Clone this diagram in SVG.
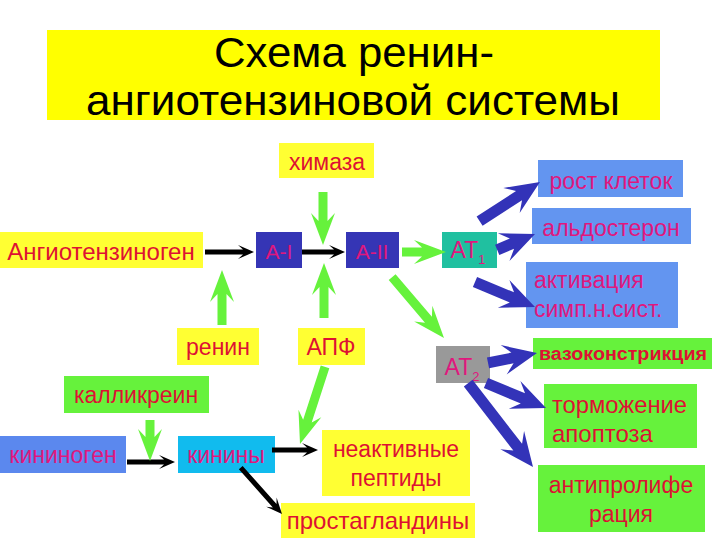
<svg xmlns="http://www.w3.org/2000/svg" width="720" height="540" viewBox="0 0 720 540">
<style>
text{font-family:"Liberation Sans",Arial,sans-serif;font-size:23px;text-anchor:middle}
.t{fill:#dd1133}
.m{fill:#e0177d}
.y{fill:#ffff33}
.g{fill:#66f23c}
.b{fill:#6395f0}
.gr{fill:#66f23c}
.bl{fill:#3333b8}
.k{fill:#000}
.s{text-anchor:start}
</style>
<rect width="720" height="540" fill="#fff"/>
<g id="title">
<rect x="47" y="30" width="613" height="90" fill="#ffff00"/>
<text x="354" y="67" style="font-size:42px" fill="#000" textLength="280" lengthAdjust="spacingAndGlyphs">Схема ренин-</text>
<text x="353" y="115" style="font-size:42px" fill="#000" textLength="534" lengthAdjust="spacingAndGlyphs">ангиотензиновой системы</text>
</g>
<g id="chymase"><rect class="y" x="279" y="143" width="95" height="35"/><text class="t" x="327" y="170">химаза</text></g>
<g id="angiotensinogen"><rect class="y" x="0" y="232" width="203" height="36"/><text class="t" x="101" y="260" style="font-size:24px">Ангиотензиноген</text></g>
<g id="a1"><rect x="256" y="232" width="46" height="36" fill="#3535b5"/><text class="m" x="279" y="259" style="font-size:21px">A-I</text></g>
<g id="a2"><rect x="346" y="232" width="53" height="36" fill="#3535b5"/><text class="m" x="372" y="259" style="font-size:21px">A-II</text></g>
<g id="at1"><rect x="442" y="232" width="55" height="36" fill="#20c0a0"/><text class="m" x="468" y="258" style="font-size:23px">AT<tspan style="font-size:13px" dy="6">1</tspan></text></g>
<g id="growth"><rect class="b" x="538" y="160" width="145" height="37"/><text class="m" x="611" y="189">рост клеток</text></g>
<g id="aldosterone"><rect class="b" x="532" y="208" width="159" height="36"/><text class="m" x="611" y="236">альдостерон</text></g>
<g id="symp"><rect class="b" x="526" y="262" width="152" height="66"/><text class="m s" x="534" y="288">активация</text><text class="m s" x="534" y="317">симп.н.сист.</text></g>
<g id="renin"><rect class="y" x="177" y="328" width="82" height="37"/><text class="t" x="218" y="355">ренин</text></g>
<g id="ace"><rect class="y" x="298" y="328" width="67" height="37"/><text class="t" x="331" y="355">АПФ</text></g>
<g id="at2"><rect x="436" y="346" width="54" height="37" fill="#999999"/><text class="m" x="462" y="375" style="font-size:23px">AT<tspan style="font-size:13px" dy="6">2</tspan></text></g>
<g id="vaso"><rect class="g" x="533" y="338" width="179" height="31"/><text class="t" x="623" y="360" style="font-size:18px;font-weight:bold" textLength="168" lengthAdjust="spacingAndGlyphs">вазоконстрикция</text></g>
<g id="kallikrein"><rect class="g" x="64" y="376" width="145" height="37"/><text class="t" x="136" y="403">калликреин</text></g>
<g id="apoptosis"><rect class="g" x="544" y="384" width="153" height="64"/><text class="t s" x="552" y="413" style="font-size:24px" textLength="135" lengthAdjust="spacingAndGlyphs">торможение</text><text class="t s" x="552" y="442" style="font-size:24px">апоптоза</text></g>
<g id="kininogen"><rect x="0" y="436" width="126" height="37" fill="#5b88ee"/><text class="m" x="63" y="463">кининоген</text></g>
<g id="kinins"><rect x="178" y="436" width="97" height="37" fill="#11bbee"/><text class="m" x="226" y="463">кинины</text></g>
<g id="inactive"><rect class="y" x="322" y="430" width="148" height="66"/><text class="t" x="396" y="457">неактивные</text><text class="t" x="396" y="486">пептиды</text></g>
<g id="prostaglandins"><rect class="y" x="281" y="503" width="194" height="35"/><text class="t" x="378" y="529" style="font-size:24px">простагландины</text></g>
<g id="antiprolif"><rect class="g" x="538" y="465" width="167" height="67"/><text class="t" x="621" y="493">антипролифе</text><text class="t" x="621" y="522">рация</text></g>
<g id="connectors">
<path class="k" transform="translate(254,252)" d="M0,0 L-16,-7 L-11,-2.5 L-49,-2.5 L-49,2.5 L-11,2.5 L-16,7 Z"/>
<path class="k" transform="translate(345,252)" d="M0,0 L-16,-7 L-11,-2.5 L-43,-2.5 L-43,2.5 L-11,2.5 L-16,7 Z"/>
<path class="k" transform="translate(175,462)" d="M0,0 L-16,-7 L-11,-2.5 L-48,-2.5 L-48,2.5 L-11,2.5 L-16,7 Z"/>
<path class="k" transform="translate(318,450)" d="M0,0 L-16,-7 L-11,-2.5 L-46,-2.5 L-46,2.5 L-11,2.5 L-16,7 Z"/>
<path class="k" transform="translate(282,514) rotate(48.3)" d="M0,0 L-16,-7 L-11,-2.5 L-62,-2.5 L-62,2.5 L-11,2.5 L-16,7 Z"/>
<path class="gr" transform="translate(323,245) rotate(90)" d="M0,0 L-32,-12 L-24,-4.5 L-53,-4.5 L-53,4.5 L-24,4.5 L-32,12 Z"/>
<path class="gr" transform="translate(324,263) rotate(-90)" d="M0,0 L-32,-12 L-24,-4.5 L-55,-4.5 L-55,4.5 L-24,4.5 L-32,12 Z"/>
<path class="gr" transform="translate(222,270) rotate(-90)" d="M0,0 L-32,-12 L-24,-4.5 L-55,-4.5 L-55,4.5 L-24,4.5 L-32,12 Z"/>
<path class="gr" transform="translate(446,252)" d="M0,0 L-32,-12 L-24,-4.5 L-44,-4.5 L-44,4.5 L-24,4.5 L-32,12 Z"/>
<path class="gr" transform="translate(444,338) rotate(49.6)" d="M0,0 L-32,-12 L-24,-4.5 L-80,-4.5 L-80,4.5 L-24,4.5 L-32,12 Z"/>
<path class="gr" transform="translate(300,444) rotate(108)" d="M0,0 L-32,-12 L-24,-4.5 L-81,-4.5 L-81,4.5 L-24,4.5 L-32,12 Z"/>
<path class="gr" transform="translate(150,461) rotate(90)" d="M0,0 L-32,-12 L-24,-4.5 L-41,-4.5 L-41,4.5 L-24,4.5 L-32,12 Z"/>
<path class="bl" transform="translate(540,182) rotate(-33)" d="M0,0 L-34,-15 L-25,-5.5 L-72,-5.5 L-72,5.5 L-25,5.5 L-34,15 Z"/>
<path class="bl" transform="translate(535,234) rotate(-22.8)" d="M0,0 L-34,-15 L-25,-5.5 L-41,-5.5 L-41,5.5 L-25,5.5 L-34,15 Z"/>
<path class="bl" transform="translate(535,307) rotate(22.6)" d="M0,0 L-34,-15 L-25,-5.5 L-65,-5.5 L-65,5.5 L-25,5.5 L-34,15 Z"/>
<path class="bl" transform="translate(537,353) rotate(-11.5)" d="M0,0 L-34,-15 L-25,-5.5 L-50,-5.5 L-50,5.5 L-25,5.5 L-34,15 Z"/>
<path class="bl" transform="translate(546,408) rotate(22.6)" d="M0,0 L-34,-15 L-25,-5.5 L-65,-5.5 L-65,5.5 L-25,5.5 L-34,15 Z"/>
<path class="bl" transform="translate(533,467) rotate(52.3)" d="M0,0 L-34,-15 L-25,-5.5 L-106,-5.5 L-106,5.5 L-25,5.5 L-34,15 Z"/>
</g>
</svg>
